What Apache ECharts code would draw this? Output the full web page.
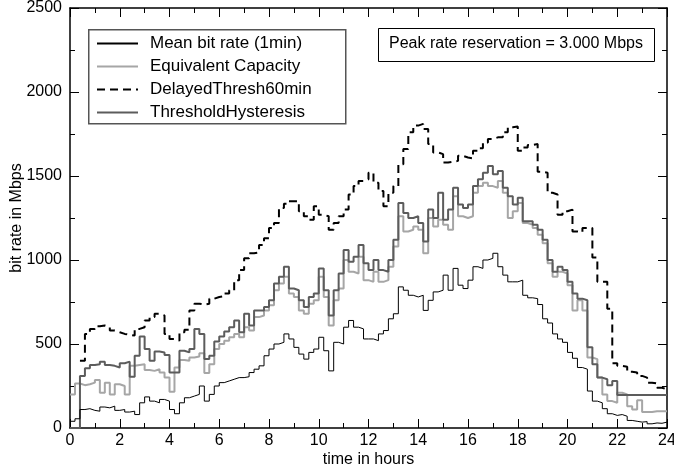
<!DOCTYPE html>
<html>
<head>
<meta charset="utf-8">
<script src="https://cdn.jsdelivr.net/npm/echarts@6/dist/echarts.min.js"></script>
<style>
    html, body { margin: 0; padding: 0; background: #fff; }
    #chart { width: 674px; height: 473px; }
</style>
</head>
<body>
<div id="chart"></div>
<script>
'use strict';

// samples every 0.2 h, value holds until the next sample (step: 'end')
var STEP = 0.2;

var meanRate = [
    40, 55, 110, 115, 105, 100, 125, 120, 130, 105,
    110, 95, 100, 80, 150, 185, 160, 150, 170, 160,
    110, 85, 150, 180, 190, 200, 250, 160, 200, 250,
    270, 280, 290, 300, 300, 305, 330, 350, 370, 430,
    470, 500, 510, 560, 530, 480, 440, 410, 450, 470,
    540, 460, 340, 510, 500, 600, 640, 600, 590, 530,
    530, 520, 560, 580, 650, 680, 840, 820, 790, 780,
    790, 700, 760, 810, 820, 910, 820, 950, 850, 830,
    880, 960, 950, 1000, 1010, 1040, 960, 910, 870, 870,
    880, 790, 775, 770, 735, 650, 625, 560, 530, 510,
    450, 415, 360, 350, 220, 160, 150, 115, 85, 75,
    80, 70, 45, 40, 35, 38, 25, 30, 28, 35,
    35
];

var equivCapacity = [
    200, 265, 255, 260, 270, 285, 210, 270, 200, 260,
    250, 200, 370, 375, 380, 345, 340, 350, 330, 300,
    216, 360, 405, 400, 420, 425, 445, 327, 380, 470,
    500, 520, 540, 560, 540, 600, 580, 660, 670, 700,
    730, 820, 860, 900, 800, 780, 700, 680, 740, 760,
    900, 780, 610, 760, 830, 1000, 930, 920, 1020, 880,
    870, 930, 870, 880, 960, 1080, 1260, 1170, 1180, 1200,
    1180, 1040, 1250, 1200, 1240, 1210, 1180, 1380, 1260, 1250,
    1260, 1400, 1440, 1460, 1440, 1430, 1470, 1400, 1250, 1290,
    1340, 1220, 1210, 1190, 1150, 1100, 980, 900, 930, 920,
    850, 700, 760, 700, 420, 410, 300, 200, 160, 150,
    210, 200, 130, 110, 165, 95, 95, 100, 100, 100,
    100
];

var delayedThresh = [
    null, null, 400, 560, 590, 605, 610, 600, 580, 570,
    560, 555, 550, 590, 600, 640, 660, 680, 670, 560,
    530, 520, 570, 585, 700, 740, 735, 740, 770, 780,
    785, 800, 820, 880, 940, 1010, 1040, 1045, 1090, 1130,
    1190, 1220, 1310, 1335, 1350, 1350, 1290, 1260, 1240, 1320,
    1270, 1260, 1180, 1220, 1260, 1300, 1390, 1440, 1470, 1480,
    1520, 1460, 1410, 1320, 1400, 1440, 1570, 1660, 1760, 1800,
    1810, 1780, 1690, 1640, 1630, 1580, 1585, 1590, 1620, 1610,
    1605, 1650, 1665, 1700, 1720, 1730, 1730, 1760, 1790, 1795,
    1650, 1670, 1685, 1690, 1525, 1520, 1400, 1390, 1270, 1290,
    1300, 1170, 1165, 1190, 1190, 1015, 870, 870, 710, 385,
    370, 365, 335, 330, 310, 300, 270, 265, 240, 230,
    230
];

var hysteresis = [
    0, 0, 310, 355, 375, 380, 395, 375, 370, 360,
    385, 395, 305, 430, 545, 470, 400, 455, 450, 435,
    330, 330, 460, 450, 470, 590, 560, 410, 430, 515,
    545, 575, 600, 640, 570, 680, 610, 700, 700, 720,
    760, 860, 900, 960, 830, 820, 760, 720, 780, 800,
    950, 820, 670, 820, 920, 1060, 990, 1020, 1090, 980,
    940, 1000, 940, 930, 1000, 1120, 1340, 1280, 1250, 1260,
    1220, 1110, 1300, 1250, 1400, 1240, 1300, 1430, 1330, 1310,
    1330, 1440, 1480, 1520, 1560, 1510, 1530, 1430, 1380, 1330,
    1370, 1230, 1230, 1210, 1180, 1120, 1000, 930, 960, 940,
    870, 800, 770, 760, 480, 380, 300, 290, 255, 280,
    196, 196, 196, 196, 196, 196, 196, 196, 196, 196,
    196
];

var legendNames = ['Mean bit rate (1min)', 'Equivalent Capacity', 'DelayedThresh60min', 'ThresholdHysteresis'];

var toPairs = function (values) {
    var res = [];
    for (var i = 0; i < values.length; i++) {
        res.push([Math.round(i * STEP * 10) / 10, values[i]]);
    }
    return res;
};

var font = 'Liberation Sans';

var frameAxis = function (extra) {
    var ax = {
        axisLine: { show: true, onZero: false, lineStyle: { color: '#000', width: 1.5 } },
        axisTick: { show: true, inside: true, length: 9, lineStyle: { color: '#000', width: 1 } },
        minorTick: { show: true, splitNumber: 2, length: 5, lineStyle: { color: '#000', width: 1 } },
        splitLine: { show: false },
        axisLabel: { show: false }
    };
    for (var k in extra) { ax[k] = extra[k]; }
    return ax;
};

var myChart = echarts.init(document.getElementById('chart'));

var option = {
    backgroundColor: '#fff',
    animation: false,
    textStyle: { fontFamily: font },
    grid: { left: 70, right: 7, top: 8, bottom: 45, containLabel: false, outerBoundsMode: 'none' },
    xAxis: [
        frameAxis({
            type: 'value', min: 0, max: 24, interval: 2, position: 'bottom',
            axisLabel: { show: true, color: '#000', fontSize: 16, fontFamily: font, margin: 5 },
            name: 'time in hours', nameLocation: 'middle', nameGap: 24, nameMoveOverlap: false,
            nameTextStyle: { color: '#000', fontSize: 16, fontFamily: font }
        }),
        frameAxis({ type: 'value', min: 0, max: 24, interval: 2, position: 'top' })
    ],
    yAxis: [
        frameAxis({
            type: 'value', min: 0, max: 2500, interval: 500, position: 'left',
            axisLabel: {
                show: true, color: '#000', fontSize: 16, fontFamily: font, margin: 8,
                formatter: function (v) { return String(v); }
            },
            name: 'bit rate in Mbps', nameLocation: 'middle', nameGap: 45, nameMoveOverlap: false,
            nameTextStyle: { color: '#000', fontSize: 16, fontFamily: font }
        }),
        frameAxis({ type: 'value', min: 0, max: 2500, interval: 500, position: 'right' })
    ],
    legend: {
        data: legendNames,
        orient: 'vertical',
        left: 96,
        top: 35,
        padding: 0,
        itemWidth: 41,
        itemHeight: 16,
        itemGap: 6,
        itemStyle: { opacity: 0, borderWidth: 0 },
        textStyle: { color: '#000', fontSize: 17, lineHeight: 16, fontFamily: font, padding: [0, 0, 0, 7] }
    },
    graphic: [
        {
            type: 'rect', left: 88, top: 29, z: 0,
            shape: { width: 257, height: 94 },
            style: { fill: '#fff', stroke: '#555', lineWidth: 1.5 }
        },
        {
            type: 'rect', left: 378, top: 28,
            shape: { width: 276, height: 33 },
            style: { fill: '#fff', stroke: '#000', lineWidth: 1 }
        },
        {
            type: 'text', left: 389, top: 36,
            style: { text: 'Peak rate reservation = 3.000 Mbps', fill: '#000', fontSize: 16, fontFamily: font }
        }
    ],
    series: [
        {
            name: 'Equivalent Capacity', type: 'line', step: 'end', symbol: 'none',
            data: toPairs(equivCapacity), z: 2,
            lineStyle: { color: '#a6a6a6', width: 2 }, itemStyle: { color: '#a6a6a6' }
        },
        {
            name: 'ThresholdHysteresis', type: 'line', step: 'end', symbol: 'none',
            data: toPairs(hysteresis), z: 3,
            lineStyle: { color: '#5c5c5c', width: 2 }, itemStyle: { color: '#5c5c5c' }
        },
        {
            name: 'DelayedThresh60min', type: 'line', step: 'end', symbol: 'none',
            data: toPairs(delayedThresh), z: 4,
            lineStyle: { color: '#000', width: 2, type: [8, 5] }, itemStyle: { color: '#000' }
        },
        {
            name: 'Mean bit rate (1min)', type: 'line', step: 'end', symbol: 'none',
            data: toPairs(meanRate), z: 5,
            lineStyle: { color: '#000', width: 1 }, itemStyle: { color: '#000' }
        }
    ]
};

myChart.setOption(option);
</script>
</body>
</html>
